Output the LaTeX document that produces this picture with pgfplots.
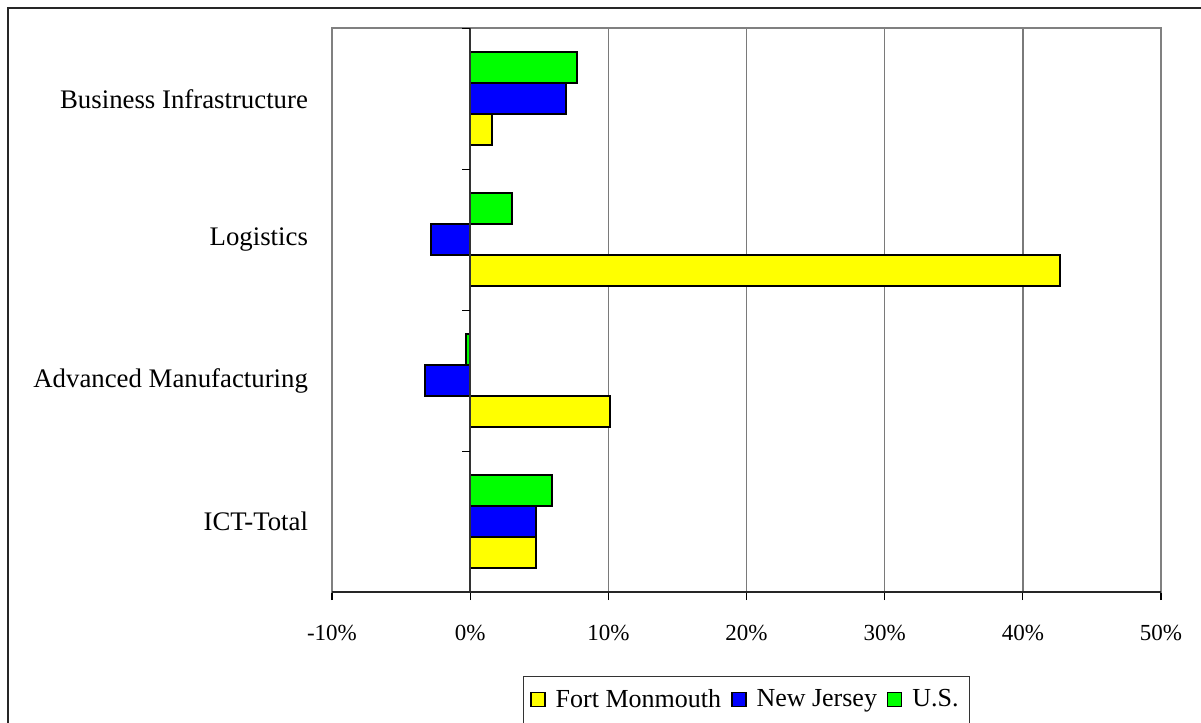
\documentclass[border=0pt]{standalone}
\usepackage{fontspec}
\setmainfont{Liberation Serif}
\usepackage{pgfplots}
\pgfplotsset{compat=1.18}
\definecolor{fmyellow}{HTML}{FFFF00}
\definecolor{njblue}{HTML}{0000FF}
\definecolor{usgreen}{HTML}{00FF00}
\definecolor{gridgray}{HTML}{7A7A7A}

\begin{document}
\begin{tikzpicture}
\useasboundingbox (0,0) rectangle (600.5bp,361.5bp);
% outer chart frame (only top and left edges visible)
\draw[line width=1bp, black!85] (4bp,0) -- (4bp,357.25bp) -- (600.5bp,357.25bp);
\begin{axis}[
  at={(166bp,65.5bp)}, anchor=south west,
  scale only axis,
  width=414.5bp, height=281.75bp,
  xbar, bar width=15.5bp,
  xmin=-10, xmax=50,
  ymin=-0.5, ymax=3.5,
  xtick={-10,0,...,50},
  xticklabels={-10\%,0\%,10\%,20\%,30\%,40\%,50\%},
  xtick pos=bottom, tick align=outside,
  major tick length=4bp,
  xtick style={black, line width=0.6bp},
  xticklabel style={font=\rmfamily\fontsize{11.5bp}{14bp}\selectfont, yshift=-9bp},
  ytick={0,1,2,3},
  yticklabels={ICT-Total, Advanced Manufacturing, Logistics, Business Infrastructure},
  ytick style={draw=none},
  yticklabel style={font=\rmfamily\fontsize{13.4bp}{16bp}\selectfont, xshift=-4.5bp},
  xmajorgrids,
  major grid style={gridgray, line width=0.7bp},
  axis line style={gray, line width=1bp},
  legend columns=3,
  legend style={at={(0.5,-0.191)}, anchor=center,
    draw=black!80, line width=0.6bp,
    font=\rmfamily\fontsize{13bp}{15bp}\selectfont,
    inner xsep=3.5bp, inner ysep=4.5bp,
    /tikz/every odd column/.append style={column sep=3bp},
    /tikz/every even column/.append style={column sep=3bp}},
  legend image code/.code={\draw[#1, line width=0.7bp] (0bp,-3.5bp) rectangle (7bp,3.5bp);},
  clip=false,
]
\addplot[draw=black, fill=fmyellow, line width=1bp, bar shift=-15.5bp] coordinates {
(4.8,0) (10.1,1) (42.7,2) (1.6,3)
};
\addplot[draw=black, fill=njblue, line width=1bp, bar shift=0bp] coordinates {
(4.8,0) (-3.3,1) (-2.8,2) (6.95,3)
};
\addplot[draw=black, fill=usgreen, line width=1bp, bar shift=15.5bp] coordinates {
(5.95,0) (-0.3,1) (3.0,2) (7.7,3)
};
\legend{Fort Monmouth, New Jersey, U.S.}
% value axis at zero with category separator ticks
\draw[black!80, line width=0.8bp] (axis cs:0,-0.5) -- (axis cs:0,3.5);
\pgfplotsinvokeforeach{-0.5,0.5,1.5,2.5,3.5}{
  \draw[black, line width=0.6bp] (axis cs:0,#1) -- ++(-4bp,0pt);
}
\draw[black!85, line width=0.9bp] (rel axis cs:0,0) -- (rel axis cs:1,0);
\end{axis}
\end{tikzpicture}
\end{document}
